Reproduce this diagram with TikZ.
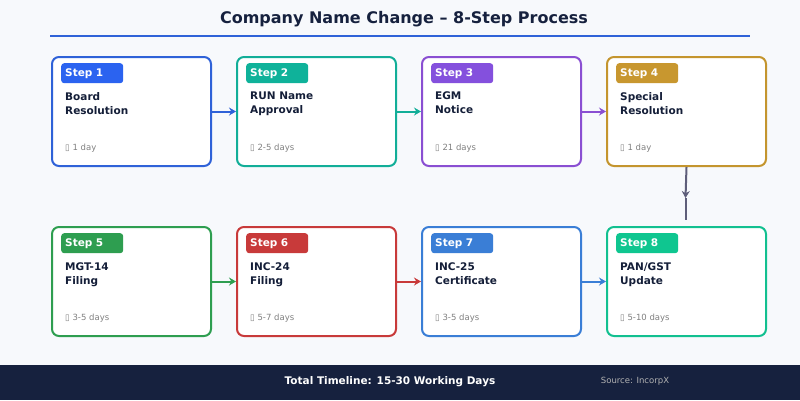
\documentclass[tikz,border=0pt]{standalone}
\usepackage{fontspec}
\setmainfont{DejaVu Sans}
\usetikzlibrary{arrows.meta}
\definecolor{bg}{HTML}{F7F9FC}
\definecolor{navy}{HTML}{16213E}
\definecolor{cA}{HTML}{2F62D8}\definecolor{bA}{HTML}{2B63F0}
\definecolor{cB}{HTML}{12AE98}\definecolor{bB}{HTML}{0FB29A}
\definecolor{cC}{HTML}{8A4FD2}\definecolor{bC}{HTML}{8450DD}
\definecolor{cD}{HTML}{C4952E}\definecolor{bD}{HTML}{C8972F}
\definecolor{cE}{HTML}{2E9E50}\definecolor{bE}{HTML}{2E9E50}
\definecolor{cF}{HTML}{C83A3A}\definecolor{bF}{HTML}{C83A3A}
\definecolor{cG}{HTML}{3A7ED6}\definecolor{bG}{HTML}{3A7ED6}
\definecolor{cH}{HTML}{12C090}\definecolor{bH}{HTML}{0FC690}
\definecolor{vgray}{HTML}{5E5E7A}
\tikzset{x=1pt,y=-1pt,
 card/.style={draw=#1,line width=2pt,rounded corners=7pt,fill=white,minimum width=159pt,minimum height=109pt,inner sep=0},
 badge/.style={fill=#1,rounded corners=3pt,text width=54pt,minimum height=20pt,inner xsep=4pt,inner ysep=0,align=left,text=white,font=\bfseries\fontsize{10.5}{12}\selectfont,anchor=north west},
 ttl/.style={anchor=north west,align=left,font=\bfseries\fontsize{10.5}{14}\selectfont,text=navy!90!black,inner sep=0},
 dur/.style={anchor=west,font=\fontsize{8.5}{10}\selectfont,text=gray,inner sep=0},
 conn/.style={line width=2pt,-{Stealth[length=7pt,width=8pt]}}}
\begin{document}
\begin{tikzpicture}
\fill[bg] (0,0) rectangle (800,400);
\useasboundingbox (0,0) rectangle (800,400);
\node (title) at (404,19) {\bfseries\fontsize{16}{18}\selectfont\color{navy} Company Name Change – 8-Step Process};
\draw[cA,line width=1.6pt] (50,36) -- (750,36);
\fill[navy] (0,365) rectangle (800,400);
\node[text=white] (tot) at (390,382) {\bfseries\fontsize{10.5}{12}\selectfont Total Timeline: 15-30 Working Days};
\node[text=gray!60] (src) at (635,381) {\fontsize{8.5}{10}\selectfont Source: IncorpX};
\foreach \n/\x/\y/\c/\t/\d in {1/51/56/A/{Board\\Resolution}/{1 day},2/236/56/B/{RUN Name\\Approval}/{2-5 days},3/421/56/C/{EGM\\Notice}/{21 days},4/606/56/D/{Special\\Resolution}/{1 day},5/51/226/E/{MGT-14\\Filing}/{3-5 days},6/236/226/F/{INC-24\\Filing}/{5-7 days},7/421/226/G/{INC-25\\Certificate}/{3-5 days},8/606/226/H/{PAN/GST\\Update}/{5-10 days}}{
 \node[card=c\c,anchor=north west] (s\n) at (\x,\y) {};
 \node[badge=b\c] (b\n) at (\x+10,\y+7) {Step \n};
 \node[ttl] (t\n) at (\x+14,\y+36) {\t};
 \node[dur] (d\n) at (\x+14,\y+92) {▯ \d};
}
\draw[conn,cA] (s1.east) -- (s2.west);
\draw[conn,cB] (s2.east) -- (s3.west);
\draw[conn,cC] (s3.east) -- (s4.west);
\draw[conn,cE] (s5.east) -- (s6.west);
\draw[conn,cF] (s6.east) -- (s7.west);
\draw[conn,cG] (s7.east) -- (s8.west);
\coordinate (vm) at (685.5,198);
\coordinate (vb) at (685.5,220);
\draw[conn,vgray] (s4.south) -- (vm);
\draw[line width=2pt,vgray] (vm) -- (vb);
\end{tikzpicture}
\end{document}
